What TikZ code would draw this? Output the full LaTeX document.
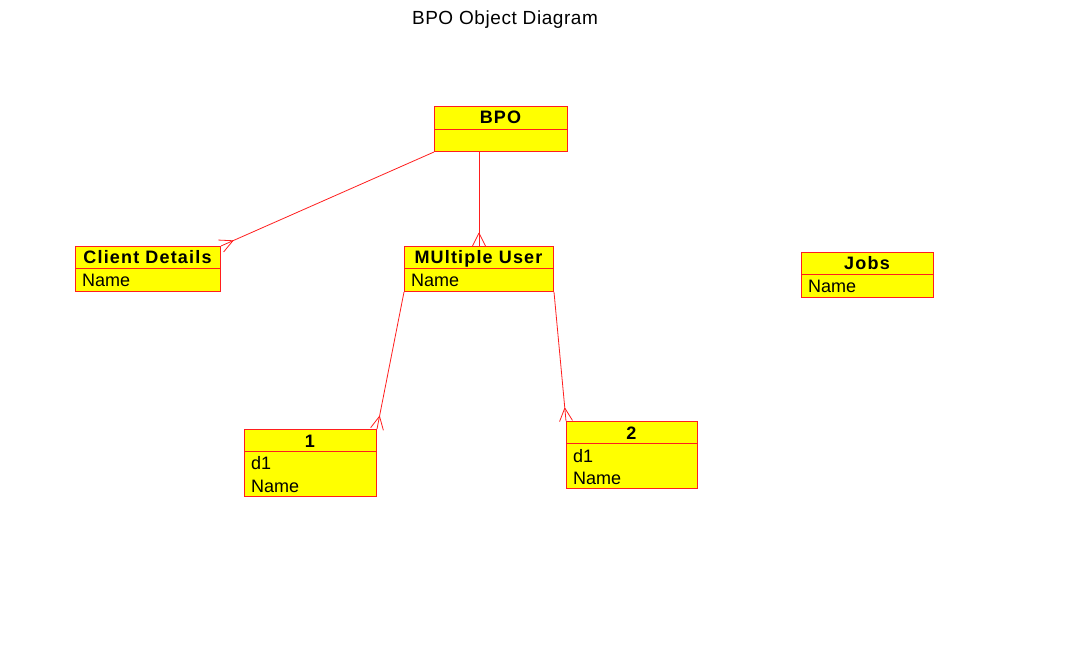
\documentclass[tikz,border=0pt]{standalone}
\usepackage{fontspec}
\setmainfont{Liberation Sans}
\usetikzlibrary{calc}
\definecolor{rr}{RGB}{255,30,30}
\definecolor{yy}{RGB}{255,255,0}
\tikzset{
  box/.style={draw=rr, fill=yy, line width=1pt, inner sep=0pt, anchor=north west},
  hdr/.style={font=\fontsize{18}{18}\selectfont\bfseries\addfontfeatures{LetterSpace=6.5}, anchor=base, inner sep=0pt},
  attr/.style={font=\fontsize{18}{18}\selectfont, anchor=base west, inner sep=0pt},
  conn/.style={draw=rr, line width=0.8pt},
  divline/.style={draw=rr, line width=0.8pt},
  ttl/.style={font=\fontsize{19}{19}\selectfont\addfontfeatures{LetterSpace=3}, anchor=base, inner sep=0pt}
}
\newcommand\crowfoot[2]{%
  \draw[conn] ($(#2)!13pt!(#1)$) -- ($(#2)!6.5pt!90:(#1)$);
  \draw[conn] ($(#2)!13pt!(#1)$) -- ($(#2)!6.5pt!-90:(#1)$);
}
\begin{document}
\begin{tikzpicture}[x=1pt,y=-1pt]
\fill[white] (0,0) rectangle (1088,660);
\useasboundingbox (0,0) rectangle (1088,660);

\node[ttl] (title) at (505,25) {BPO Object Diagram};

% BPO
\node[box, minimum width=133pt, minimum height=45pt] (bpo) at (434,106) {};
\draw[divline] ($(bpo.north west)+(0,23)$) -- ($(bpo.north east)+(0,23)$);
\node[hdr] (bpot) at (500.5,124) {BPO};

% Client Details
\node[box, minimum width=145pt, minimum height=45pt] (cd) at (75,246) {};
\draw[divline] ($(cd.north west)+(0,22)$) -- ($(cd.north east)+(0,22)$);
\node[hdr] (cdt) at (147.5,264) {Client Details};
\node[attr] (cda) at (82,287) {Name};

% MUltiple User
\node[box, minimum width=149pt, minimum height=45pt] (mu) at (404,246) {};
\draw[divline] ($(mu.north west)+(0,22)$) -- ($(mu.north east)+(0,22)$);
\node[hdr] (mut) at (478.5,264) {MUltiple User};
\node[attr] (mua) at (411,287) {Name};

% Jobs
\node[box, minimum width=132pt, minimum height=45pt] (jobs) at (801,252) {};
\draw[divline] ($(jobs.north west)+(0,22)$) -- ($(jobs.north east)+(0,22)$);
\node[hdr] (jobst) at (867,270) {Jobs};
\node[attr] (jobsa) at (808,293) {Name};

% 1
\node[box, minimum width=132pt, minimum height=67pt] (one) at (244,429) {};
\draw[divline] ($(one.north west)+(0,22)$) -- ($(one.north east)+(0,22)$);
\node[hdr] (onet) at (310,447) {1};
\node[attr] (onea) at (251,470) {d1};
\node[attr] (oneb) at (251,493) {Name};

% 2
\node[box, minimum width=131pt, minimum height=67pt] (two) at (566,421) {};
\draw[divline] ($(two.north west)+(0,22)$) -- ($(two.north east)+(0,22)$);
\node[hdr] (twot) at (631.5,439) {2};
\node[attr] (twoa) at (573,462) {d1};
\node[attr] (twob) at (573,485) {Name};

% connectors
\draw[conn] (bpo.south west) -- (cd.north east);
\crowfoot{bpo.south west}{cd.north east}
\coordinate (bpomu) at (bpo.south -| mu.north);
\draw[conn] (bpomu) -- (mu.north);
\crowfoot{bpomu}{mu.north}
\draw[conn] (mu.south west) -- (one.north east);
\crowfoot{mu.south west}{one.north east}
\draw[conn] (mu.south east) -- (two.north west);
\crowfoot{mu.south east}{two.north west}
\end{tikzpicture}
\end{document}
